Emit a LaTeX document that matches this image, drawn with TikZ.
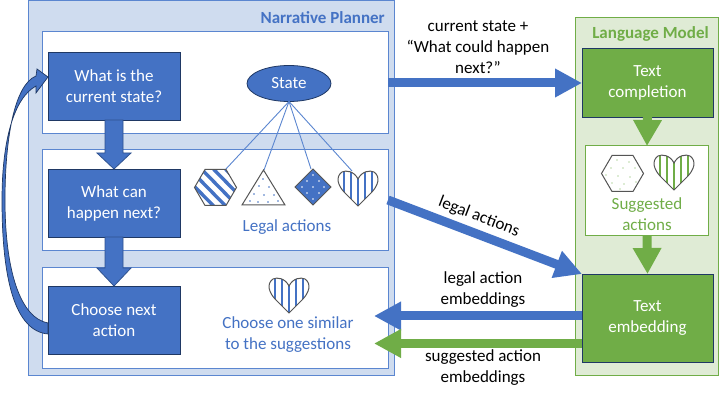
\documentclass[tikz,border=0pt]{standalone}
\usepackage{fontspec}
\setmainfont{Carlito}
\usetikzlibrary{arrows.meta,calc,shapes.geometric}
\definecolor{bmain}{HTML}{4472C4}
\definecolor{bline}{HTML}{5B86D0}
\definecolor{bpale}{HTML}{CFDCEF}
\definecolor{bdark}{HTML}{2F528F}
\definecolor{bnavy}{HTML}{1F3864}
\definecolor{gmain}{HTML}{70AD47}
\definecolor{gpale}{HTML}{DFEBD5}
\definecolor{shapeline}{HTML}{555555}
\tikzset{
  panel/.style={draw=bline,line width=1pt,fill=white,minimum width=#1,inner sep=0pt,outer sep=0pt},
  stepbox/.style={draw=bnavy,line width=.9pt,fill=bmain,text=white,align=center,font=\fontsize{17}{21}\selectfont,minimum width=132pt,inner sep=0pt,outer sep=0pt},
  greenbox/.style={stepbox,fill=gmain,minimum width=131pt},
  cap1/.style={font=\fontsize{17}{21}\selectfont,align=center,inner sep=0pt},
  blockblue/.style={line width=9pt,draw=bmain,-{Triangle[length=27pt,width=27pt]}},
  blockgreen/.style={line width=9pt,draw=gmain,-{Triangle[length=27pt,width=27pt]}},
  blockgreenv/.style={line width=9pt,draw=gmain,-{Triangle[length=26pt,width=27pt]}},
  outarrow/.style={draw=bdark,line width=.8pt,fill=bmain},
  fan/.style={draw=bline,line width=.9pt},
  shapeborder/.style={draw=shapeline,line width=1pt},
}
\newcommand{\heartpath}[3]{%
  (#1,#2+8*#3) .. controls (#1-4*#3,#2+0*#3) and (#1-12*#3,#2-1*#3) .. (#1-16*#3,#2+1*#3)
  .. controls (#1-23*#3,#2+6*#3) and (#1-20*#3,#2+15*#3) .. (#1-13*#3,#2+22*#3)
  -- (#1,#2+35*#3) -- (#1+13*#3,#2+22*#3)
  .. controls (#1+20*#3,#2+15*#3) and (#1+23*#3,#2+6*#3) .. (#1+16*#3,#2+1*#3)
  .. controls (#1+12*#3,#2-1*#3) and (#1+4*#3,#2+0*#3) .. (#1,#2+8*#3) -- cycle}
\newcommand{\hexpath}[2]{%
  (#1-21,#2) -- (#1-10.5,#2-18) -- (#1+10.5,#2-18) -- (#1+21,#2) -- (#1+10.5,#2+18) -- (#1-10.5,#2+18) -- cycle}
\newcommand{\stripedheart}[4]{%
  \begin{scope}
    \clip \heartpath{#1}{#2}{1};
    \fill[white] (#1-22,#2-2) rectangle (#1+22,#2+37);
    \foreach \k in {-21,-14,-7,0,7,14,21}
      \draw[#3,line width=#4] (#1+\k,#2-2) -- (#1+\k,#2+37);
  \end{scope}
  \draw[shapeborder] \heartpath{#1}{#2}{1};
}
\begin{document}
\begin{tikzpicture}[x=1pt,y=-1pt]
\useasboundingbox (0,0) rectangle (720,411);
\fill[white] (0,0) rectangle (720,411);
\draw[draw=bline,line width=1pt,fill=bpale] (28,1) rectangle (394,375.5);
\node[panel=346pt,minimum height=102pt] (p1) at (215,83) {};
\node[panel=346pt,minimum height=101pt] (p2) at (215,200.5) {};
\node[panel=346pt,minimum height=101pt] (p3) at (215,318) {};
\draw[draw=gmain,line width=1pt,fill=gpale] (575,18) rectangle (718.5,375.5);
\node[font=\bfseries\fontsize{17}{20}\selectfont,text=bmain,anchor=east,inner sep=0pt] (np) at (385,18) {Narrative Planner};
\node[font=\bfseries\fontsize{17}{20}\selectfont,text=gmain,inner sep=0pt] (lm) at (650.5,34) {Language Model};
\node[stepbox,minimum height=68pt] (s1) at (114,86) {What is the\\current state?};
\node[stepbox,minimum height=68pt] (s2) at (114,203) {What can\\happen next?};
\node[stepbox,minimum height=68pt] (s3) at (114,320) {Choose next\\action};
\draw[outarrow] ([xshift=-9pt]s1.south) -- ++(0,33) -- ++(-8,0) -- (s2.north) -- ($(s1.south)+(17,33)$) -- ++(-8,0) -- ([xshift=9pt]s1.south) -- cycle;
\draw[outarrow] ([xshift=-9pt]s2.south) -- ++(0,31) -- ++(-8,0) -- (s3.north) -- ($(s2.south)+(17,31)$) -- ++(-8,0) -- ([xshift=9pt]s2.south) -- cycle;
\coordinate (la) at ($(s3.west)+(0,3)$);
\coordinate (lb) at ($(s1.west)+(0,-9)$);
\draw[draw=bnavy,line width=.7pt,fill=bmain]
  ($(s3.west)+(0,14)$) .. controls (15,331) and (2,280) .. (2,200)
  .. controls (2,140) and (14,98) .. (36,86)
  -- (36,93) -- (lb) -- (37,69) -- (36,76)
  .. controls (14,85) and (5,140) .. (5,200)
  .. controls (5,270) and (20,318) .. (la) -- cycle;
\node[draw=bnavy,line width=.8pt,fill=bmain,text=white,ellipse,minimum width=84pt,minimum height=36pt,inner sep=0pt,outer sep=0pt,font=\fontsize{17}{19}\selectfont] (state) at (289,83.5) {State};
\coordinate (a1) at (225,170);
\coordinate (a2) at (264,170);
\coordinate (a3) at (311,169);
\coordinate (a4) at (352,171);
\draw[fan] (state.south) -- (a1);
\draw[fan] (state.south) -- (a2);
\draw[fan] (state.south) -- (a3);
\draw[fan] (state.south) -- (a4);
\begin{scope}
  \clip \hexpath{215.5}{187.5};
  \fill[white] (190,165) rectangle (240,210);
  \foreach \k in {-44,-32,-20,-8,4,16,28,40}
    \draw[bmain,line width=3.4pt] (215.5+\k-22,165) -- (215.5+\k+22,210);
\end{scope}
\draw[shapeborder] \hexpath{215.5}{187.5};
\draw[shapeborder,fill=white] (242,205) -- (263.5,170) -- (285,205) -- cycle;
\foreach \p in {(263,179),(259,186),(269,187),(254,194),(264,195),(274,195),(250,201),(258,202),(268,202),(278,201)}
  \fill[bmain] \p circle (.8);
\draw[shapeborder,fill=bmain] (313,169) -- (331,187) -- (313,205) -- (295,187) -- cycle;
\foreach \p in {(313,175),(307,181),(319,181),(302,187),(313,187),(324,187),(307,193),(319,193),(313,199)}
  \fill[white] \p circle (.8);
\stripedheart{358}{171}{bmain}{1.3pt}
\node[cap1,text=bmain] (la1) at (287,227) {Legal actions};
\stripedheart{289}{278}{bmain}{1.3pt}
\node[cap1,text=bmain] (cs) at (288,334.5) {Choose one similar\\to the suggestions};
\node[greenbox,minimum height=69pt] (tc) at (647.5,82.5) {Text\\completion};
\node[draw=gmain,line width=1pt,fill=white,minimum width=123pt,minimum height=90pt,outer sep=0pt,inner sep=0pt] (sa) at (647,191) {};
\node[greenbox,minimum height=88pt] (te) at (647.5,318) {Text\\embedding};
\node[cap1,text=gmain] (sat) at (647,214.5) {Suggested\\actions};
\draw[shapeborder,fill=white] \hexpath{622.5}{173.5};
\foreach \p in {(617,160),(629,162),(611,168),(623,168),(635,168),(606,175),(618,176),(630,177),(612,183),(624,184),(636,182),(620,189)}
  \fill[gmain] \p circle (.7);
\stripedheart{674}{155}{gmain}{2pt}
\draw[blockgreenv] (tc.south) -- (sa.north);
\draw[blockgreenv] (sa.south) -- (te.north);
\draw[blockblue] (p1.east |- 0,83) -- (tc.west |- 0,83);
\draw[blockblue] (388,200) -- (te.north west);
\draw[blockblue] (te.west |- 0,316) -- (374,316);
\draw[blockgreen] (te.west |- 0,343.5) -- (374,343.5);
\node[cap1] (l1) at (478,47) {current state +\\“What could happen\\next?”};
\node[cap1,rotate=-21] (l2) at (479,217) {legal actions};
\node[cap1] (l3) at (483,290) {legal action\\embeddings};
\node[cap1] (l4) at (483,368) {suggested action\\embeddings};
\end{tikzpicture}
\end{document}
